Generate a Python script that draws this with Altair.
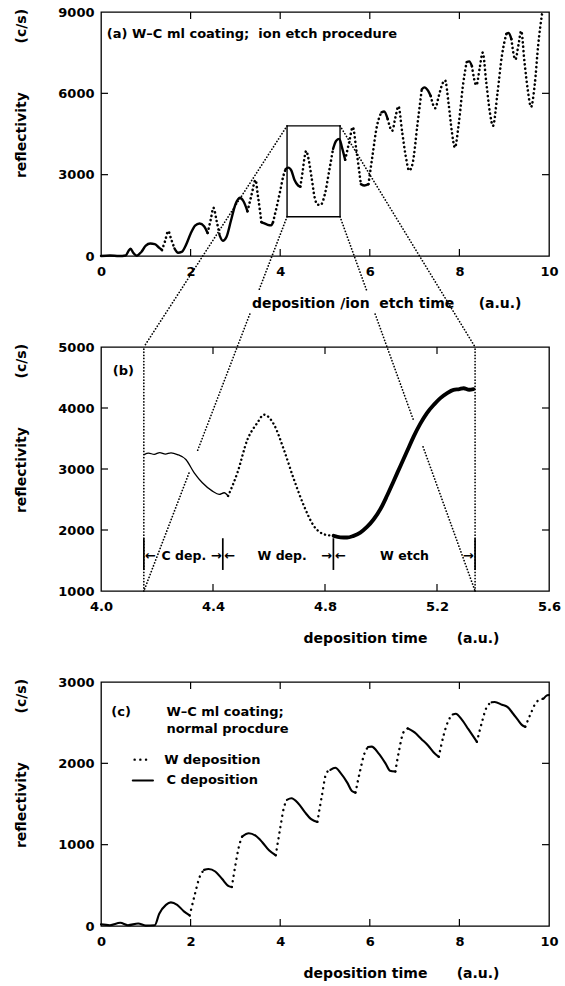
import altair as alt
import pandas as pd

FONT = "DejaVu Sans"
W, H, GAP, TICK = 448, 244, 91, 7
NB = "\u00a0"

# ---------------- panel (a): ion etch procedure ----------------
A_XDOM, A_YDOM = [0, 10], [0, 9000]
a_x = [0.00, 0.20, 0.40, 0.55, 0.62, 0.66, 0.72, 0.80, 0.90, 1.00, 1.10, 1.20, 1.30,
       1.36, 1.43, 1.50, 1.57,
       1.64, 1.72, 1.80, 1.90, 2.00, 2.10, 2.20, 2.30,
       2.38, 2.45, 2.51, 2.58,
       2.65, 2.72, 2.80, 2.90, 3.00, 3.10, 3.18,
       3.27, 3.36, 3.45, 3.50, 3.55,
       3.58, 3.65, 3.72, 3.80,
       3.84, 3.92, 4.00, 4.07,
       4.12, 4.18, 4.25, 4.32, 4.40,
       4.45, 4.50, 4.55, 4.58, 4.63, 4.70, 4.77, 4.83, 4.90, 5.00, 5.10,
       5.18, 5.25, 5.32, 5.38,
       5.45, 5.54, 5.62, 5.70,
       5.80, 5.88,
       5.97, 6.06, 6.16,
       6.26, 6.32,
       6.40, 6.50, 6.57, 6.64, 6.72, 6.80, 6.88, 6.96, 7.06,
       7.16, 7.22, 7.30,
       7.36, 7.46, 7.54, 7.62, 7.68, 7.76, 7.83, 7.90, 7.98, 8.08,
       8.16, 8.22,
       8.28, 8.38, 8.45, 8.52, 8.60, 8.68, 8.75, 8.85, 8.95,
       9.05, 9.10,
       9.16, 9.25, 9.32, 9.38, 9.45, 9.52, 9.60, 9.68, 9.76, 9.85]
a_y = [0, 20, 0, 20, 200, 270, 120, 10, 150, 380, 460, 440, 300,
       220, 550, 920, 600,
       280, 120, 150, 420, 820, 1120, 1200, 1100,
       850, 1350, 1780, 1300,
       750, 560, 700, 1300, 1900, 2150, 2020,
       1650, 2250, 2800, 2250, 1650,
       1250, 1200, 1150, 1130,
       1250, 1800, 2400, 2950,
       3200, 3260, 3150, 2800, 2600,
       2560, 3100, 3700, 3880, 3600, 2900, 2150, 1900, 1880, 2300, 3200,
       3950, 4250, 4320, 4000,
       3550, 4200, 4750, 3900,
       2650, 2600,
       2650, 3700, 4800,
       5300, 5330,
       5050, 4620, 5100, 5520, 4600, 3700, 3150, 3450, 4800,
       6150, 6220, 6100,
       5900, 5450, 5900, 6350, 6480, 5600, 4600, 4000, 4800, 6300,
       7150, 7180,
       7000, 6300, 6900, 7500, 6400, 5300, 4800, 6000, 7400,
       8200, 8230,
       8000, 7250, 7800, 8300, 7200, 6200, 5500, 6300, 7800, 9000]
a_style = ("S" * 13 + "D" * 4 + "S" * 8 + "D" * 4 + "S" * 7 + "D" * 5 + "S" * 4 + "D" * 4
           + "S" * 5 + "D" * 11 + "S" * 4 + "D" * 4 + "S" * 2 + "D" * 3 + "S" * 2 + "D" * 9
           + "S" * 3 + "D" * 10 + "S" * 2 + "D" * 9 + "S" * 2 + "D" * 10)
a_rect_x = [4.153, 5.336]
a_rect_y = [1450, 4800]
a_xticks = [0, 2, 4, 6, 8, 10]
a_yticks = [0, 3000, 6000, 9000]
a_text = "(a) W–C ml coating;" + NB * 2 + "ion etch procedure"
a_text_xy = [0.13, 8200]

# ---------------- panel (b): zoomed period ----------------
B_XDOM, B_YDOM = [4.0, 5.6], [1000, 5000]
b_x = [4.154, 4.17, 4.19, 4.21, 4.23, 4.25, 4.273, 4.303, 4.333, 4.362, 4.398, 4.422, 4.44,
       4.454, 4.487, 4.523, 4.558, 4.582, 4.618, 4.653, 4.689, 4.725, 4.76, 4.796,
       4.831, 4.855, 4.879, 4.9, 4.926, 4.95, 4.974, 5.0, 5.021, 5.045, 5.069, 5.093,
       5.117, 5.14, 5.164, 5.19, 5.212, 5.235, 5.259, 5.28, 5.295, 5.315, 5.33]
b_y = [3237, 3260, 3240, 3270, 3245, 3265, 3237, 3155, 2937, 2774, 2638, 2584, 2611,
       2557, 2937, 3482, 3754, 3890, 3727, 3318, 2829, 2393, 2067, 1931,
       1904, 1880, 1876, 1900, 1958, 2050, 2176, 2360, 2557, 2800, 3046, 3290,
       3536, 3740, 3917, 4060, 4162, 4240, 4298, 4310, 4325, 4300, 4309]
b_style = "C" * 13 + "W" * 11 + "E" * 23
b_xticks = [4.0, 4.4, 4.8, 5.2, 5.6]
b_yticks = [1000, 2000, 3000, 4000, 5000]
b_zoom_x = [4.153, 5.336]
b_bar_x = [4.153, 4.435, 4.830, 5.336]
b_bar_y = [1345, 1865]
b_span_label = ["C dep.", "W dep.", "W etch"]
b_span_x = [4.296, 4.647, 5.084]
b_span_y = 1580
b_larrow_x = [4.157, 4.440, 4.836]
b_rarrow_x = [4.431, 4.825, 5.331]
b_text_xy = [4.042, 4611]

# ---------------- panel (c): normal procedure ----------------
C_XDOM, C_YDOM = [0, 10], [0, 3000]
c_x = [0.00, 0.20, 0.43, 0.60, 0.83, 1.00, 1.20, 1.30, 1.45, 1.56, 1.70, 1.85,
       1.98, 2.10, 2.20,
       2.30, 2.40, 2.55, 2.70, 2.85,
       2.92, 3.00, 3.08,
       3.15, 3.30, 3.45, 3.60, 3.75,
       3.90, 4.00, 4.08,
       4.15, 4.25, 4.40, 4.55, 4.70,
       4.83, 4.93, 5.03,
       5.12, 5.23, 5.35, 5.50, 5.60,
       5.68, 5.78, 5.88,
       5.96, 6.04, 6.20, 6.35, 6.45,
       6.57, 6.65, 6.75,
       6.85, 7.00, 7.15, 7.30, 7.45,
       7.54, 7.65, 7.75,
       7.85, 7.92, 8.05, 8.20,
       8.39, 8.50, 8.60,
       8.72, 8.79, 8.95, 9.07, 9.20, 9.31, 9.40,
       9.47, 9.60, 9.72,
       9.88, 9.96, 10.00]
c_y = [20, 10, 40, 10, 30, 5, 10, 150, 260, 290, 260, 180,
       130, 400, 600,
       690, 700, 670, 580, 490,
       480, 750, 980,
       1100, 1140, 1110, 1030, 930,
       870, 1200, 1450,
       1550, 1570, 1510, 1400, 1310,
       1280, 1600, 1880,
       1920, 1945, 1880, 1760, 1660,
       1640, 1900, 2120,
       2200, 2205, 2120, 2000, 1910,
       1900, 2150, 2380,
       2430, 2380, 2300, 2220, 2120,
       2080, 2350, 2520,
       2600, 2610, 2540, 2420,
       2265, 2500, 2680,
       2750, 2755, 2720, 2694, 2610, 2531, 2470,
       2449, 2620, 2755,
       2796, 2837, 2840]
c_style = ("S" * 12 + "D" * 3 + "S" * 5 + "D" * 3 + "S" * 5 + "D" * 3 + "S" * 5 + "D" * 3
           + "S" * 5 + "D" * 3 + "S" * 5 + "D" * 3 + "S" * 5 + "D" * 3 + "S" * 4 + "D" * 3
           + "S" * 7 + "D" * 3 + "S" * 3)
c_xticks = [0, 2, 4, 6, 8, 10]
c_yticks = [0, 1000, 2000, 3000]
c_text = ["(c)", "W–C ml coating;", "normal procdure", "W deposition", "C deposition"]
c_text_x = [0.23, 1.46, 1.46, 1.41, 1.46]
c_text_y = [2630, 2630, 2417, 2045, 1789]
c_leg_dot_x = [0.75, 1.11]
c_leg_dot_y = 2045
c_leg_line_x = [0.71, 1.16]
c_leg_line_y = 1789

Y_TITLE = "reflectivity" + NB * 10 + "(c/s)"
A_X_TITLE = "deposition /ion" + NB * 2 + "etch time" + NB * 5 + "(a.u.)"
BC_X_TITLE = "deposition time" + NB * 6 + "(a.u.)"


def segments(xs, ys, styles):
    rows = []
    seg, prev = -1, None
    for k in range(len(xs) - 1):
        s = styles[k]
        if s != prev:
            seg += 1
            rows.append(dict(x=xs[k], y=ys[k], seg=seg, style=s, i=len(rows)))
            prev = s
        rows.append(dict(x=xs[k + 1], y=ys[k + 1], seg=seg, style=s, i=len(rows)))
    return pd.DataFrame(rows)


class Ctx:
    def __init__(self, xdom, ydom, xvals, yvals, xfmt, xtitle, xtitle_end):
        self.xs = alt.Scale(domain=xdom, nice=False, zero=False)
        self.ys = alt.Scale(domain=ydom, nice=False, zero=False)
        self.xa = alt.Axis(values=xvals, format=xfmt, title=xtitle, titleX=xtitle_end, titleY=47,
                           titleAlign="right", titleBaseline="middle", labelFlush=False,
                           labelPadding=9)
        self.ya = alt.Axis(values=yvals, format="d", title=Y_TITLE, titleX=-80, titleY=81,
                           titleAngle=270, titleAlign="center", titleBaseline="middle",
                           labelPadding=7)
        self.xvals, self.yvals = xvals, yvals

    def X(self, f="x"):
        return alt.X(f"{f}:Q", scale=self.xs, axis=self.xa)

    def Y(self, f="y"):
        return alt.Y(f"{f}:Q", scale=self.ys, axis=self.ya)


def curve(c, df, style, **mark):
    return alt.Chart(df[df["style"] == style]).mark_line(
        color="black", interpolate="monotone", strokeCap="round", **mark
    ).encode(x=c.X(), y=c.Y(), detail="seg:N", order=alt.Order("i:Q"))


def tick_layers(c):
    dx = pd.DataFrame({"x": c.xvals[1:-1]})
    dy = pd.DataFrame({"y": c.yvals[1:-1]})
    rx = alt.Chart(dx).mark_rule(color="black", strokeWidth=1.2)
    ry = alt.Chart(dy).mark_rule(color="black", strokeWidth=1.2)
    return [
        rx.encode(x=c.X(), y=alt.value(H), y2=alt.value(H - TICK)),
        rx.encode(x=c.X(), y=alt.value(0), y2=alt.value(TICK)),
        ry.encode(y=c.Y(), x=alt.value(0), x2=alt.value(TICK)),
        ry.encode(y=c.Y(), x=alt.value(W - TICK), x2=alt.value(W)),
    ]


def txt(c, texts, xvals, yvals, align="left", size=13):
    df = pd.DataFrame({"x": xvals, "y": yvals, "t": texts})
    return alt.Chart(df).mark_text(
        align=align, baseline="middle", font=FONT, fontWeight="bold", fontSize=size, color="black"
    ).encode(x=c.X(), y=c.Y(), text="t:N")


# ---------- build (a) ----------
ca = Ctx(A_XDOM, A_YDOM, a_xticks, a_yticks, "d", A_X_TITLE, 420)
a_df = segments(a_x, a_y, a_style)


def b_to_a(bx, by):
    px = (bx - B_XDOM[0]) / (B_XDOM[1] - B_XDOM[0]) * W
    py = (B_YDOM[1] - by) / (B_YDOM[1] - B_YDOM[0]) * H + H + GAP
    return (A_XDOM[0] + px / W * (A_XDOM[1] - A_XDOM[0]),
            A_YDOM[1] - py / H * (A_YDOM[1] - A_YDOM[0]))


connectors = [
    ((a_rect_x[0], a_rect_y[1]), (b_zoom_x[0], B_YDOM[1]), []),
    ((a_rect_x[0], a_rect_y[0]), (b_zoom_x[0], B_YDOM[0]), [(0.20, 0.26), (0.631, 0.685)]),
    ((a_rect_x[1], a_rect_y[1]), (b_zoom_x[1], B_YDOM[1]), []),
    ((a_rect_x[1], a_rect_y[0]), (b_zoom_x[1], B_YDOM[0]), [(0.20, 0.26), (0.543, 0.615)]),
]
crow = []
sid = 0
for (sx, sy), (bx, by), gaps in connectors:
    ex, ey = b_to_a(bx, by)
    cuts = [0.0]
    for g0, g1 in gaps:
        cuts += [g0, g1]
    cuts.append(1.0)
    for j in range(0, len(cuts), 2):
        for t in (cuts[j], cuts[j + 1]):
            crow.append(dict(x=sx + (ex - sx) * t, y=sy + (ey - sy) * t, seg=sid, i=len(crow)))
        sid += 1
conn_df = pd.DataFrame(crow)

rect_df = pd.DataFrame({"x": [a_rect_x[0]], "x2": [a_rect_x[1]],
                        "y": [a_rect_y[0]], "y2": [a_rect_y[1]]})

DOT_LINE = dict(color="black", strokeWidth=1.7, strokeDash=[0.1, 3.0], strokeCap="round")

panel_a = alt.layer(
    *tick_layers(ca),
    alt.Chart(rect_df).mark_rect(fill=None, stroke="black", strokeWidth=1.4).encode(
        x=ca.X(), x2="x2:Q", y=ca.Y(), y2="y2:Q"),
    alt.Chart(conn_df).mark_line(**DOT_LINE).encode(
        x=ca.X(), y=ca.Y(), detail="seg:N", order=alt.Order("i:Q")),
    curve(ca, a_df, "S", strokeWidth=2.4),
    curve(ca, a_df, "D", strokeWidth=2.6, strokeDash=[0.1, 4.3]),
    txt(ca, [a_text], [a_text_xy[0]], [a_text_xy[1]]),
).properties(width=W, height=H)

# ---------- build (b) ----------
cb = Ctx(B_XDOM, B_YDOM, b_xticks, b_yticks, ".1f", BC_X_TITLE, 398)
b_df = segments(b_x, b_y, b_style)
zoom_df = pd.DataFrame({"x": b_zoom_x, "y": [B_YDOM[0]] * 2, "y2": [B_YDOM[1]] * 2})
bar_df = pd.DataFrame({"x": b_bar_x, "y": [b_bar_y[0]] * 4, "y2": [b_bar_y[1]] * 4})

panel_b = alt.layer(
    *tick_layers(cb),
    alt.Chart(zoom_df).mark_rule(**DOT_LINE).encode(x=cb.X(), y=cb.Y(), y2="y2:Q"),
    alt.Chart(bar_df).mark_rule(color="black", strokeWidth=1.7).encode(
        x=cb.X(), y=cb.Y(), y2="y2:Q"),
    curve(cb, b_df, "C", strokeWidth=1.3),
    curve(cb, b_df, "W", strokeWidth=2.4, strokeDash=[0.1, 4.2]),
    curve(cb, b_df, "E", strokeWidth=3.9),
    txt(cb, b_span_label, b_span_x, [b_span_y] * 3, align="center", size=12.5),
    txt(cb, ["←"] * 3, b_larrow_x, [b_span_y] * 3, align="left", size=13),
    txt(cb, ["→"] * 3, b_rarrow_x, [b_span_y] * 3, align="right", size=13),
    txt(cb, ["(b)"], [b_text_xy[0]], [b_text_xy[1]]),
).properties(width=W, height=H)

# ---------- build (c) ----------
cc = Ctx(C_XDOM, C_YDOM, c_xticks, c_yticks, "d", BC_X_TITLE, 398)
c_df = segments(c_x, c_y, c_style)
leg_df = pd.DataFrame({
    "x": c_leg_dot_x + c_leg_line_x,
    "y": [c_leg_dot_y] * 2 + [c_leg_line_y] * 2,
    "seg": [0, 0, 1, 1], "style": ["D", "D", "S", "S"], "i": [0, 1, 2, 3]})

panel_c = alt.layer(
    *tick_layers(cc),
    curve(cc, c_df, "S", strokeWidth=2.1),
    curve(cc, c_df, "D", strokeWidth=2.4, strokeDash=[0.1, 5.6]),
    curve(cc, leg_df, "S", strokeWidth=2.1),
    curve(cc, leg_df, "D", strokeWidth=2.4, strokeDash=[0.1, 5.6]),
    txt(cc, c_text, c_text_x, c_text_y),
).properties(width=W, height=H)

chart = alt.vconcat(
    panel_a, panel_b, panel_c,
    spacing=GAP, bounds="flush",
    padding={"left": 13, "top": 5, "right": 0, "bottom": 0},
    background="white",
).configure_axis(
    labelFont=FONT, labelFontSize=13, labelFontWeight="bold", labelColor="black",
    titleFont=FONT, titleFontSize=14, titleFontWeight="bold", titleColor="black",
    ticks=False, domain=False, grid=False,
).configure_view(stroke="black", strokeWidth=1.3)

chart.save("out.html", embed_options={"renderer": "svg", "actions": False})
